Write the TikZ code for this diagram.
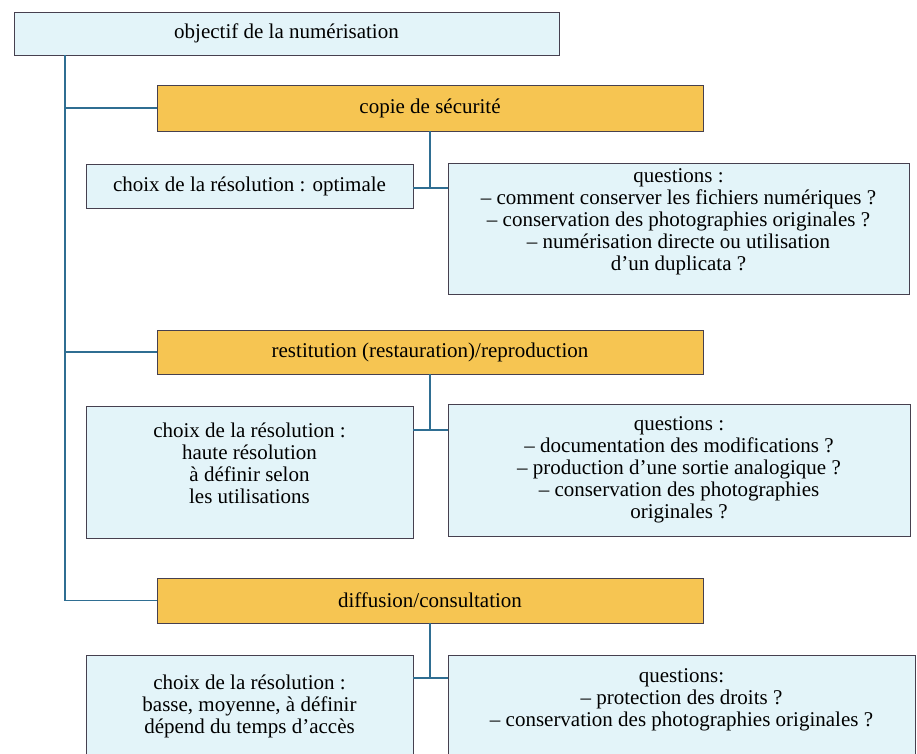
\documentclass[tikz,border=0pt]{standalone}
\usepackage{fontspec}
\setmainfont{Liberation Serif}

\definecolor{boxblue}{HTML}{E3F4F9}
\definecolor{boxgold}{HTML}{F6C552}
\definecolor{boxline}{HTML}{46404F}
\definecolor{linkblue}{HTML}{2F6E92}

\tikzset{
  bluebox/.style = {draw = boxline, fill = boxblue, line width = .9pt,
                    align = center, inner sep = 0pt,
                    font = \fontsize{21}{22}\selectfont},
  goldbox/.style = {bluebox, fill = boxgold},
  link/.style = {draw = linkblue, line width = 1.3pt}
}

\begin{document}
\begin{tikzpicture}[x = 1pt, y = -1pt]
  \useasboundingbox (0,0) rectangle (917,753);
  \clip (0,0) rectangle (917,753);

  \node [bluebox, minimum width = 545pt, minimum height = 43pt]
    (objectif) at (286.5,33.5) {objectif de la numérisation};

  % copie de securite
  \node [goldbox, minimum width = 546pt, minimum height = 46pt]
    (copie) at (430,108) {copie de sécurité};
  \node [bluebox, minimum width = 327pt, minimum height = 44pt]
    (choixA) at (249.5,186) {choix de la résolution : optimale};
  \node [bluebox, minimum width = 461pt, minimum height = 131pt,
         text depth = 18pt]
    (questA) at (678.5,228.5)
    {questions :\\
     – comment conserver les fichiers numériques ?\\
     – conservation des photographies originales ?\\
     – numérisation directe ou utilisation\\
     d’un duplicata ?};

  % restitution
  \node [goldbox, minimum width = 546pt, minimum height = 44pt]
    (restit) at (430,352) {restitution (restauration)/reproduction};
  \node [bluebox, minimum width = 327pt, minimum height = 132pt,
         text depth = 18pt]
    (choixB) at (249.5,472)
    {choix de la résolution :\\
     haute résolution\\
     à définir selon\\
     les utilisations};
  \node [bluebox, minimum width = 462pt, minimum height = 132pt]
    (questB) at (679,470)
    {questions :\\
     – documentation des modifications ?\\
     – production d’une sortie analogique ?\\
     – conservation des photographies\\
     originales ?};

  % diffusion
  \node [goldbox, minimum width = 546pt, minimum height = 45pt]
    (diffus) at (430,600.5) {diffusion/consultation};
  \node [bluebox, anchor = north, minimum width = 327pt,
         inner ysep = 19pt, text depth = 60pt]
    (choixC) at (249.5,655)
    {choix de la résolution :\\
     basse, moyenne, à définir\\
     dépend du temps d’accès};
  \node [bluebox, anchor = north, minimum width = 467pt,
         inner ysep = 13pt, text depth = 60pt]
    (questC) at (681.5,655)
    {questions:\\
     – protection des droits ?\\
     – conservation des photographies originales ?};

  % connectors
  \coordinate (trunk) at (65,600.5);
  \draw [link] (objectif.south -| trunk) -- (trunk) -- (diffus.west);
  \draw [link] (copie.west -| trunk) -- (copie.west);
  \draw [link] (restit.west -| trunk) -- (restit.west);

  \coordinate (forkA) at (430,188);
  \coordinate (forkB) at (430,430);
  \coordinate (forkC) at (430,678);
  \draw [link] (copie.south) -- (forkA);
  \draw [link] (choixA.east |- forkA) -- (questA.west |- forkA);
  \draw [link] (restit.south) -- (forkB);
  \draw [link] (choixB.east |- forkB) -- (questB.west |- forkB);
  \draw [link] (diffus.south) -- (forkC);
  \draw [link] (choixC.east |- forkC) -- (questC.west |- forkC);
\end{tikzpicture}
\end{document}
